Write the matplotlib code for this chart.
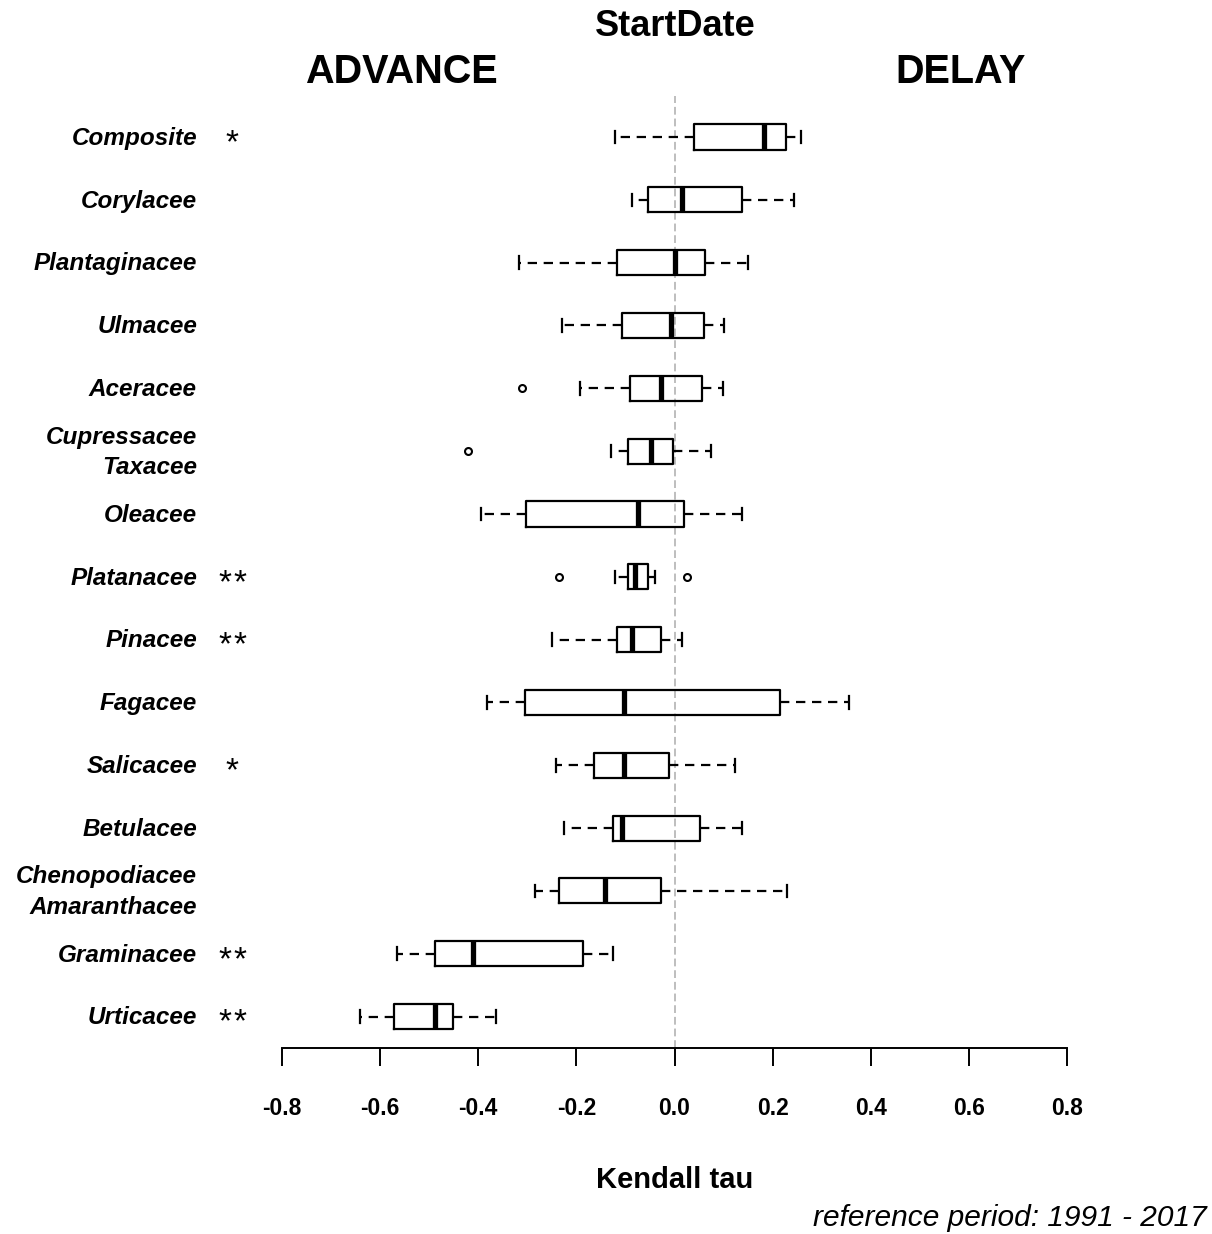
import numpy as np
import matplotlib.pyplot as plt
import matplotlib.transforms as mtrans

# families, listed top to bottom
names = ["Composite", "Corylacee", "Plantaginacee", "Ulmacee", "Aceracee",
         "Cupressacee\nTaxacee", "Oleacee", "Platanacee", "Pinacee", "Fagacee",
         "Salicacee", "Betulacee", "Chenopodiacee\nAmaranthacee", "Graminacee", "Urticacee"]
stars = ["*", "", "", "", "", "", "", "**", "**", "", "*", "", "", "**", "**"]

whislo = [-0.122, -0.086, -0.317, -0.230, -0.192, -0.130, -0.395, -0.122, -0.250, -0.383,
          -0.242, -0.226, -0.285, -0.566, -0.641]
q1 = [0.039, -0.055, -0.118, -0.107, -0.091, -0.094, -0.302, -0.094, -0.118, -0.305,
      -0.165, -0.126, -0.235, -0.489, -0.571]
med = [0.183, 0.015, 0.000, -0.008, -0.028, -0.047, -0.075, -0.080, -0.086, -0.102,
       -0.102, -0.106, -0.141, -0.410, -0.489]
q3 = [0.227, 0.137, 0.063, 0.060, 0.056, -0.003, 0.020, -0.054, -0.027, 0.215,
      -0.012, 0.052, -0.027, -0.187, -0.452]
whishi = [0.258, 0.243, 0.149, 0.101, 0.098, 0.075, 0.137, -0.039, 0.016, 0.356,
          0.124, 0.137, 0.230, -0.125, -0.364]
fliers = [[], [], [], [], [-0.311], [-0.420], [], [-0.236, 0.025], [], [],
          [], [], [], [], []]

xticks = [-0.8, -0.6, -0.4, -0.2, 0.0, 0.2, 0.4, 0.6, 0.8]

W, H = 1212, 1234
fig = plt.figure(figsize=(W / 100, H / 100), dpi=100)
ax = fig.add_axes([282 / W, (H - 1048) / H, 785 / W, (1048 - 105.6) / H])

n = len(names)
pos = np.arange(n, 0, -1)  # top row gets the highest position
stats = []
for i in range(n):
    stats.append(dict(med=med[i], q1=q1[i], q3=q3[i], whislo=whislo[i],
                      whishi=whishi[i], fliers=fliers[i]))

# reference line at zero (drawn under the boxes)
ax.plot([0, 0], [0.5, 15.65], color='#BEBEBE', lw=1.4, ls=(0, (4, 2)),
        zorder=1, clip_on=False)

ax.bxp(stats, positions=pos, vert=False, widths=0.4, capwidths=0.2,
       boxprops=dict(color='black', lw=1.6),
       medianprops=dict(color='black', lw=3.8, solid_capstyle='butt'),
       whiskerprops=dict(color='black', lw=1.6, ls=(0, (4.2, 3))),
       capprops=dict(color='black', lw=1.6),
       flierprops=dict(marker='o', markerfacecolor='none', markeredgecolor='black',
                       markersize=5, markeredgewidth=1.5),
       zorder=2)

ax.set_xlim(-0.8, 0.8)
ax.set_ylim(0.5, 15.5)
for s in ['top', 'right', 'left']:
    ax.spines[s].set_visible(False)
ax.spines['bottom'].set_bounds(-0.8, 0.8)
ax.spines['bottom'].set_linewidth(1.4)
ax.set_yticks([])
ax.set_xticks(xticks)
ax.set_xticklabels(['%.1f' % t for t in xticks], fontsize=16.5, fontweight='bold',
                   family='Liberation Sans')
ax.tick_params(axis='x', direction='out', length=13, width=1.4, pad=22)

# row labels and significance stars
tr = mtrans.blended_transform_factory(fig.transFigure, ax.transData)
for i in range(n):
    ax.text(197 / W, pos[i] - 0.02, names[i], transform=tr, ha='right', va='center',
            fontsize=17.5, fontweight='bold', fontstyle='italic',
            family='Liberation Sans', linespacing=1.42)
    k = len(stars[i])
    for j in range(k):
        xs = 232 + (j - (k - 1) / 2) * 15
        ax.text(xs / W, pos[i] - 0.24, '*', transform=tr, ha='center',
                va='baseline', fontsize=24, family='Liberation Sans')

fig.text(675 / W, 1 - 27 / H, 'StartDate', ha='center', va='center',
         fontsize=26, fontweight='bold', family='Liberation Sans')
fig.text(401 / W, 1 - 72 / H, 'ADVANCE', ha='center', va='center', fontsize=28.5,
         fontweight='bold', family='Liberation Sans')
fig.text(961 / W, 1 - 72 / H, 'DELAY', ha='center', va='center', fontsize=28.5,
         fontweight='bold', family='Liberation Sans')
fig.text(675 / W, 1 - 1180 / H, 'Kendall tau', ha='center', va='center',
         fontsize=21, fontweight='bold', family='Liberation Sans')
fig.text(1207 / W, 1 - 1218 / H, 'reference period: 1991 - 2017', ha='right',
         va='center', fontsize=21.5, fontstyle='italic', family='Liberation Sans')

fig.savefig('out.png', dpi=100)
